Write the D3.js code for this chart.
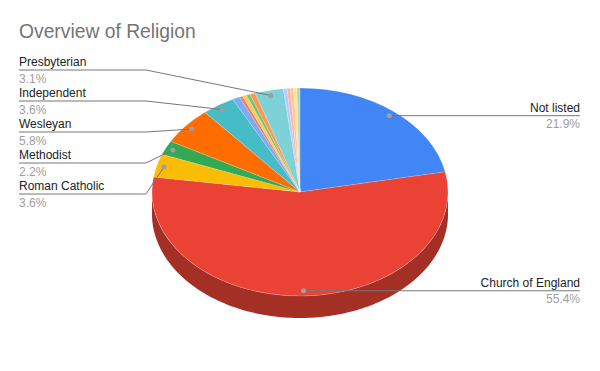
<!DOCTYPE html>
<html>
<head>
<meta charset="utf-8">
<script src="https://cdn.jsdelivr.net/npm/d3@7"></script>
<style>
  body { margin: 0; background: #fff; }
  svg { display: block; font-family: "Liberation Sans", Arial, sans-serif; }
</style>
</head>
<body>
<div id="chart"></div>
<script>
// slices in clockwise order from 12 o'clock
const names = ["Not listed", "Church of England", "Roman Catholic", "Methodist", "Wesleyan", "Independent",
  "", "", "", "", "", "Presbyterian", "", "", "", "", ""];
const values = [21.9, 55.4, 3.6, 2.2, 5.8, 3.6,
  0.8, 0.35, 0.45, 0.4, 0.6, 3.1, 0.4, 0.35, 0.35, 0.35, 0.35];
const colors = ["#4285f4", "#ea4335", "#fbbc04", "#34a853", "#ff6d01", "#46bdc6",
  "#7baaf7", "#f07b72", "#fcd04f", "#71c287", "#ff994d", "#7ed1d7",
  "#b3cefb", "#f7b4ae", "#ffc599", "#fde49b", "#aedcba"];

const data = names.map((d, i) => ({ name: d, value: values[i], color: colors[i] }));

const width = 600, height = 371;
const cx = 300, cy = 192, rx = 148, ry = 104, depth = 22;

const svg = d3.select("#chart").append("svg")
  .attr("width", width)
  .attr("height", height);

svg.append("text")
  .attr("x", 19)
  .attr("y", 38)
  .attr("fill", "#757575")
  .attr("font-size", 19.3)
  .text("Overview of Religion");

const pie = d3.pie().sort(null).value(d => d.value);
const arcs = pie(data);

// point on the squashed ellipse, angle clockwise from top
const pt = (a, f = 1) => [cx + f * rx * Math.sin(a), cy - f * ry * Math.cos(a)];

// front side (only the lower half of the rim is visible)
const side = svg.append("g");
arcs.forEach(d => {
  const a0 = Math.max(d.startAngle, Math.PI / 2);
  const a1 = Math.min(d.endAngle, 3 * Math.PI / 2);
  if (a0 >= a1) return;
  const n = Math.max(2, Math.ceil((a1 - a0) / 0.02));
  const top = d3.range(n + 1).map(i => pt(a0 + (a1 - a0) * i / n));
  const bottom = top.slice().reverse().map(p => [p[0], p[1] + depth]);
  side.append("path")
    .attr("d", d3.line()(top.concat(bottom)) + "Z")
    .attr("fill", d3.color(d.data.color).darker(1));
});

// top face
const arc = d3.arc().innerRadius(0).outerRadius(rx);
svg.append("g")
  .attr("transform", `translate(${cx},${cy}) scale(1,${ry / rx})`)
  .selectAll("path")
  .data(arcs)
  .join("path")
  .attr("d", arc)
  .attr("fill", d => d.data.color)
  .attr("stroke", "#fff")
  .attr("stroke-opacity", 0.35)
  .attr("stroke-width", 0.5)
  .attr("vector-effect", "non-scaling-stroke");

// labels
const labelled = arcs.filter(d => d.data.value >= 2);
const right = labelled.filter(d => (d.startAngle + d.endAngle) / 2 < Math.PI);
const left = labelled.filter(d => (d.startAngle + d.endAngle) / 2 >= Math.PI)
  .sort((a, b) => b.startAngle - a.startAngle);

const lab = svg.append("g");

right.forEach(d => {
  const m = (d.startAngle + d.endAngle) / 2;
  const p = pt(m, 0.95);
  lab.append("line")
    .attr("x1", p[0]).attr("y1", p[1])
    .attr("x2", 580).attr("y2", p[1])
    .attr("stroke", "#777").attr("stroke-width", 1);
  lab.append("circle").attr("cx", p[0]).attr("cy", p[1]).attr("r", 2.5).attr("fill", "#9e9e9e");
  lab.append("text").attr("x", 580).attr("y", p[1] - 4).attr("text-anchor", "end")
    .attr("font-size", 12).attr("fill", "#222").text(d.data.name);
  lab.append("text").attr("x", 580).attr("y", p[1] + 12.5).attr("text-anchor", "end")
    .attr("font-size", 12).attr("fill", "#9e9e9e").text(d3.format(".1f")(d.data.value) + "%");
});

left.forEach((d, i) => {
  const m = (d.startAngle + d.endAngle) / 2;
  const p = pt(m, 0.95);
  const ly = 70 + i * 31;
  lab.append("polyline")
    .attr("points", [[19, ly], [146, ly], p].map(q => q.join(",")).join(" "))
    .attr("fill", "none")
    .attr("stroke", "#777").attr("stroke-width", 1);
  lab.append("circle").attr("cx", p[0]).attr("cy", p[1]).attr("r", 2.5).attr("fill", "#9e9e9e");
  lab.append("text").attr("x", 19).attr("y", ly - 4)
    .attr("font-size", 12).attr("fill", "#222").text(d.data.name);
  lab.append("text").attr("x", 19).attr("y", ly + 12.5)
    .attr("font-size", 12).attr("fill", "#9e9e9e").text(d3.format(".1f")(d.data.value) + "%");
});
</script>
</body>
</html>
